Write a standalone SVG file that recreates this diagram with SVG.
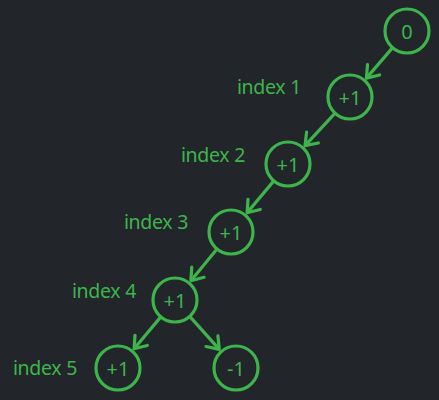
<svg xmlns="http://www.w3.org/2000/svg" width="439" height="400" viewBox="0 0 439 400">
<style>
.n{fill:none;stroke:#3db54c;stroke-width:3.2}
.t{fill:#3db54c;font-family:"Noto Sans","DejaVu Sans",sans-serif;font-size:20px;text-anchor:middle;dominant-baseline:central}
.l{fill:#3db54c;font-family:"Noto Sans","DejaVu Sans",sans-serif;font-size:19.5px;text-anchor:end;letter-spacing:-0.3px}
.e{stroke:#3db54c;stroke-width:3.2;fill:none;marker-end:url(#a)}
</style>
<defs>
<marker id="a" markerUnits="userSpaceOnUse" markerWidth="24" markerHeight="24" refX="0" refY="0" viewBox="-14 -12 16 24" orient="auto">
<path d="M-11,-8 L0,0 L-11,8" fill="none" stroke="#3db54c" stroke-width="3.2" stroke-linecap="round" stroke-linejoin="round"/>
</marker>
</defs>
<rect width="439" height="400" fill="#22252a"/>
<g id="edges">
<line class="e" x1="392" y1="48.4" x2="366.4" y2="78.1"/>
<line class="e" x1="334.4" y1="113.9" x2="305" y2="145.6"/>
<line class="e" x1="273.2" y1="181.6" x2="247.1" y2="212.8"/>
<line class="e" x1="216.4" y1="249.8" x2="190.9" y2="280.7"/>
<line class="e" x1="160.2" y1="317.6" x2="134.1" y2="348.8"/>
<line class="e" x1="190.4" y1="317.1" x2="219.3" y2="349.4"/>
</g>
<g id="n0"><circle class="n" cx="407" cy="31" r="22"/><text class="t" x="407" y="31">0</text></g>
<g id="n1"><circle class="n" cx="350" cy="97" r="22"/><text class="t" x="350" y="97">+1</text><text class="l" x="301" y="94">index 1</text></g>
<g id="n2"><circle class="n" cx="288" cy="164" r="22"/><text class="t" x="288" y="164">+1</text><text class="l" x="245" y="162">index 2</text></g>
<g id="n3"><circle class="n" cx="231" cy="232" r="22"/><text class="t" x="231" y="232">+1</text><text class="l" x="188" y="229">index 3</text></g>
<g id="n4"><circle class="n" cx="175" cy="300" r="22"/><text class="t" x="175" y="300">+1</text><text class="l" x="136" y="298">index 4</text></g>
<g id="n5"><circle class="n" cx="118" cy="368" r="22"/><text class="t" x="118" y="368">+1</text><text class="l" x="77" y="375">index 5</text></g>
<g id="n6"><circle class="n" cx="236" cy="368" r="22"/><text class="t" x="236" y="368">-1</text></g>
</svg>
